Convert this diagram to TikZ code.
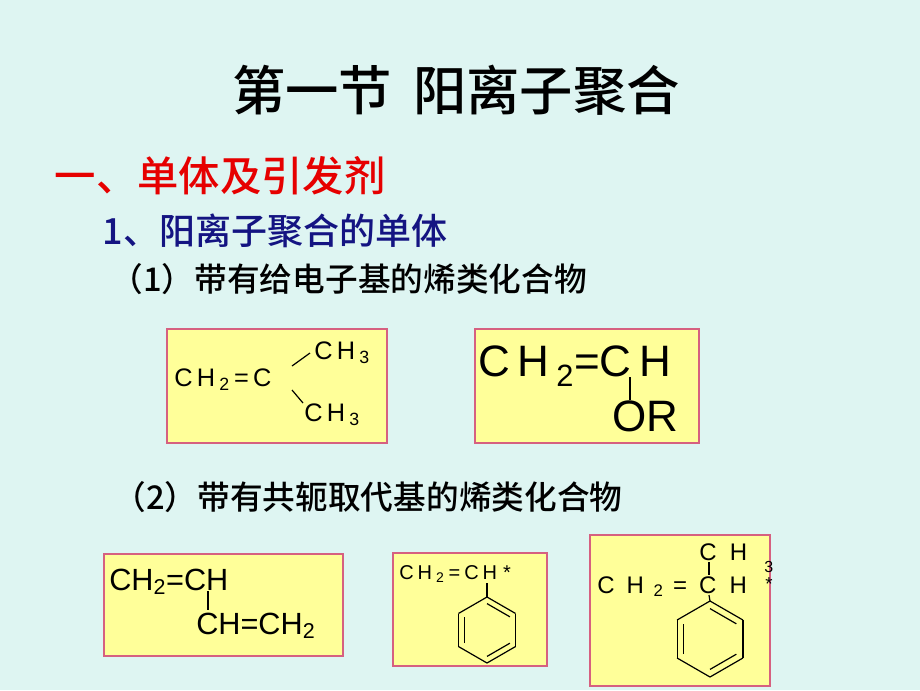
\documentclass[tikz,border=0pt]{standalone}
\usepackage{fontspec}
\setsansfont{Liberation Sans}
\newfontfamily\cjk{Noto Sans CJK SC Medium}
\usetikzlibrary{positioning,calc}
\definecolor{bgcyan}{RGB}{222,245,242}
\definecolor{boxyellow}{RGB}{255,255,153}
\definecolor{boxpink}{RGB}{214,96,128}
\definecolor{navy}{RGB}{20,20,130}
\definecolor{titlered}{RGB}{230,0,0}
\tikzset{
  chembox/.style={draw=boxpink, fill=boxyellow, line width=0.9pt},
  chem/.style={font=\sffamily, inner sep=0pt, anchor=base west},
  bond/.style={line width=0.9pt}
}
\newcommand{\ring}[2]{% center, radius
  \foreach \k in {0,...,5}
    \draw[bond] ($(#1)+(90+60*\k:#2)$) -- ($(#1)+(150+60*\k:#2)$);
  \foreach \k in {0,2,4}
    \draw[bond] ($(#1)+(30+60*\k:0.8*#2)$) -- ($(#1)+(90+60*\k:0.8*#2)$);
}
\begin{document}
\begin{tikzpicture}[x=0.75pt, y=-0.75pt]
    \fill[bgcyan] (0,0) rectangle (920,690);
    \useasboundingbox (0,0) rectangle (920,690);

    % Headings
    \node (Title) at (456,90) {\cjk\fontsize{40}{44}\selectfont 第一节\hspace{0.4em}阳离子聚合};
    \node (Section) [anchor=west] at (50,176) {\cjk\color{titlered}\fontsize{31}{34}\selectfont 一、单体及引发剂};
    \node (Monomer) [anchor=west] at (98,231) {\cjk\color{navy}\fontsize{27}{30}\selectfont 1、阳离子聚合的单体};
    \node (DonorHead) [anchor=west] at (106,279) {\cjk\fontsize{24.5}{28}\selectfont （1）带有给电子基的烯类化合物};
    \node (ConjHead) [anchor=west] at (109,497) {\cjk\fontsize{24.5}{28}\selectfont （2）带有共轭取代基的烯类化合物};

    % Isobutylene
    \draw[chembox] (167,329) rectangle (387,443);
    \node (IsoMain) [chem, font=\sffamily\fontsize{19}{22}\selectfont] at (174,386) {C\,H\,$_{\mathsf 2}$\,=\,C};
    \node (IsoTop) [chem, font=\sffamily\fontsize{19}{22}\selectfont] at (314,359) {C\,H\,$_{\mathsf 3}$};
    \node (IsoBot) [chem, font=\sffamily\fontsize{19}{22}\selectfont] at (304,421) {C\,H\,$_{\mathsf 3}$};
    \draw[bond] (292,366) -- (310,353);
    \draw[bond] (292,390) -- (303,403);

    % Vinyl ether
    \draw[chembox] (475,329) rectangle (699,443);
    \node (EthMain) [chem, font=\sffamily\fontsize{33}{38}\selectfont] at (478,376) {C\,H\,$_{\mathsf 2}$=C\,H};
    \node (EthOR) [chem, font=\sffamily\fontsize{33}{38}\selectfont] at (612,431) {OR};
    \draw[line width=2pt] (630,377) -- (630,400);

    % Butadiene
    \draw[chembox] (104,554) rectangle (343,656);
    \node (ButTop) [chem, font=\sffamily\fontsize{23}{26}\selectfont] at (109,590) {CH$_{\mathsf 2}$=CH};
    \node (ButBot) [chem, font=\sffamily\fontsize{23}{26}\selectfont] at (196,634) {CH=CH$_{\mathsf 2}$};
    \draw[bond] (208,591) -- (208,610);

    % Styrene
    \draw[chembox] (393,553) rectangle (547,666);
    \node (StyMain) [chem, font=\sffamily\fontsize{15}{17}\selectfont] at (399,579) {C\hspace{0.2em}H\hspace{0.2em}$_{\mathsf 2}$\hspace{0.2em}=\hspace{0.2em}C\hspace{0.2em}H\hspace{0.3em}*};
    \coordinate (StyRing) at (487,630);
    \draw[bond] (487,583) -- (487,597);
    \ring{StyRing}{33}

    % alpha-Methylstyrene
    \draw[chembox] (590,535) rectangle (770,686);
    \node (MstTop) [chem, font=\sffamily\fontsize{18}{20}\selectfont] at (699,560) {C\hspace{0.55em}H};
    \node (MstMain) [chem, font=\sffamily\fontsize{18}{20}\selectfont] at (597,593) {C\hspace{0.5em}H\hspace{0.4em}$_{\mathsf 2}$\hspace{0.4em}=\hspace{0.5em}C\hspace{0.55em}H};
    \node (MstSub) [chem, font=\sffamily\fontsize{12}{14}\selectfont] at (764,572) {3};
    \node (MstStar) [chem, font=\sffamily\fontsize{14}{16}\selectfont] at (765,590) {*};
    \draw[bond] (709,562) -- (709,575);
    \coordinate (MstRing) at (710,639);
    \draw[bond] (709,595) -- (710,601);
    \ring{MstRing}{38}
\end{tikzpicture}
\end{document}
